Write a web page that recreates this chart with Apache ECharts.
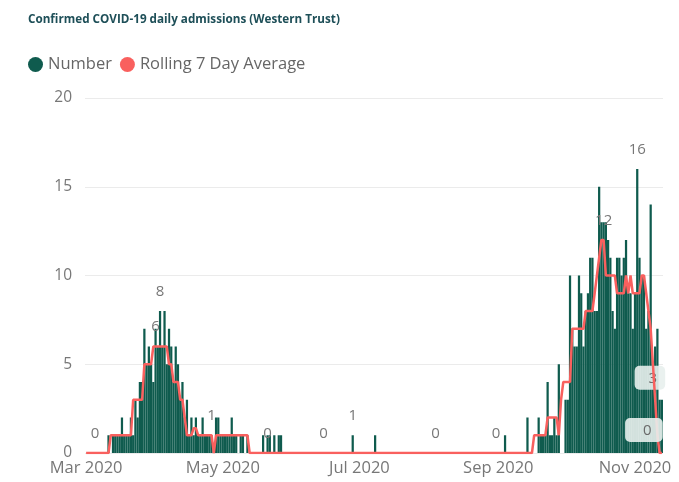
<!DOCTYPE html>
<html>
<head>
<meta charset="utf-8">
<script src="https://cdn.jsdelivr.net/npm/echarts@6/dist/echarts.min.js"></script>
<style>
  html, body { margin: 0; padding: 0; background: #fff; }
  #chart { width: 679px; height: 482px; }
</style>
</head>
<body>
<div id="chart"></div>
<script>
// Daily confirmed admissions, Western Trust, from 1 March 2020
const startDate = '2020-03-01';
const dayCount = 258;

const numberValues = [
  0,0,0,0,0,0,0,0,0,0,            // Mar 1-10
  1,0,1,1,1,1,2,1,1,1,            // Mar 11-20
  2,1,3,2,4,4,7,5,6,5,            // Mar 21-30
  4,7,6,8,6,8,5,7,6,4,            // Mar 31 - Apr 9
  6,5,3,4,2,3,1,2,1,2,            // Apr 10-19
  1,1,2,1,1,1,1,0,2,2,            // Apr 20-29
  1,1,1,1,1,2,1,1,0,1,            // Apr 30 - May 9
  1,0,1,0,0,0,0,0,0,1,            // May 10-19
  0,1,1,0,1,0,1,1,0,0,            // May 20-29
  0,0,0,0,0,0,0,0,0,0,            // May 30 - Jun 8
  0,0,0,0,0,0,0,0,0,0,            // Jun 9-18
  0,0,0,0,0,0,0,0,0,1,            // Jun 19-28
  0,0,0,0,0,0,0,0,0,1,            // Jun 29 - Jul 8
  0,0,0,0,0,0,0,0,0,0,            // Jul 9-18
  0,0,0,0,0,0,0,0,0,0,            // Jul 19-28
  0,0,0,0,0,0,0,0,0,0,            // Jul 29 - Aug 7
  0,0,0,0,0,0,0,0,0,0,            // Aug 8-17
  0,0,0,0,0,0,0,0,0,0,            // Aug 18-27
  0,0,0,0,0,0,0,1,0,0,            // Aug 28 - Sep 6
  0,0,0,0,0,0,0,2,0,0,            // Sep 7-16
  0,0,2,1,1,1,4,1,1,2,            // Sep 17-26
  1,5,0,0,3,3,10,7,6,6,           // Sep 27 - Oct 6
  10,9,6,8,9,11,11,8,8,15,        // Oct 7-16
  13,13,13,12,11,8,7,11,11,10,    // Oct 17-26
  11,12,9,9,7,9,16,11,10,10,      // Oct 27 - Nov 5
  7,8,14,5,6,7,3,3                // Nov 6-13
];

const rollingValues = [
  0,0,0,0,0,0,0,0,0,0,
  0,1,1,1,1,1,1,1,1,1,
  1,3,3,3,3,3,5,5,5,5,
  6,6,6,6,6,6,6,5,5,4,
  4,4,3,3,2,1,1,1,1.4,1.4,
  1,1,1,1,1,1,1,0,1,1,
  1,1,1,1,1,1,1,1,1,1,
  1,1,1,0,0,0,0,0,0,0,
  0,0,0,0,0,0,0,0,0,0,
  0,0,0,0,0,0,0,0,0,0,
  0,0,0,0,0,0,0,0,0,0,
  0,0,0,0,0,0,0,0,0,0,
  0,0,0,0,0,0,0,0,0,0,
  0,0,0,0,0,0,0,0,0,0,
  0,0,0,0,0,0,0,0,0,0,
  0,0,0,0,0,0,0,0,0,0,
  0,0,0,0,0,0,0,0,0,0,
  0,0,0,0,0,0,0,0,0,0,
  0,0,0,0,0,0,0,0,0,0,
  0,0,0,0,0,0,0,0,0,0,
  1,1,1,1,1,1,2,2,2,2,
  2,1,3,4,4,4,4,7,7,7,
  7,7,7,8,8,8,8,9,10,11,
  12,12,10,10,10,10,10,9,9,9,
  9,10,9,10,9,9,9,9,10,10,
  9,8,7,5,3,1,0,0
];

const monthTicks = ['2020-03-01', '2020-05-01', '2020-07-01', '2020-09-01', '2020-11-01'];
const monthTickLabels = ['Mar 2020', 'May 2020', 'Jul 2020', 'Sep 2020', 'Nov 2020'];
const yTicks = [0, 5, 10, 15, 20];

// days (index from startDate) that carry a value label
const numberLabelDays = [33, 56, 119, 246];
const rollingLabelDays = [4, 31, 81, 106, 156, 183, 231];
const lastDay = dayCount - 1;

const BAR = '#0F5B4E';
const LINE = '#F9605E';
const TEXT = '#777777';
const FONT = '"Open Sans", "Noto Sans", sans-serif';

function isoDay(i) {
  const d = new Date(Date.parse(startDate + 'T00:00:00Z') + i * 86400000);
  return d.toISOString().slice(0, 10);
}
const days = [];
for (let i = 0; i < dayCount; i++) days.push(isoDay(i));

const plainLabel = {
  show: true, position: 'top', distance: 12,
  color: TEXT, fontFamily: FONT, fontSize: 15
};
const boxedLabel = {
  show: true, position: 'top',
  color: '#6A6A6A', fontFamily: FONT, fontSize: 15,
  backgroundColor: 'rgba(232,239,237,0.9)',
  borderRadius: 5
};

const numberData = numberValues.map((v, i) => {
  if (i === lastDay) {
    return { value: v, label: Object.assign({}, boxedLabel, { distance: 10, padding: [5, 8, 4, 14], offset: [-12, 0] }) };
  }
  if (numberLabelDays.includes(i)) return { value: v, label: plainLabel };
  return v;
});
const rollingData = rollingValues.map((v, i) => {
  if (i === lastDay) {
    return { value: v, label: Object.assign({}, boxedLabel, { distance: 11, padding: [5, 11, 4, 18], offset: [-18, 0] }) };
  }
  if (rollingLabelDays.includes(i)) return { value: v, label: plainLabel };
  return v;
});

const chart = echarts.init(document.getElementById('chart'), null, { renderer: 'canvas' });
chart.setOption({
  animation: false,
  backgroundColor: '#fff',
  textStyle: { fontFamily: FONT },
  title: {
    text: 'Confirmed COVID-19 daily admissions (Western Trust)',
    left: 23, top: 9,
    textStyle: { fontFamily: FONT, fontSize: 11.7, fontWeight: 'bold', color: '#1E4F58' }
  },
  legend: {
    left: 23, top: 51,
    icon: 'circle', itemWidth: 15, itemHeight: 15, itemGap: 8,
    textStyle: { fontFamily: FONT, fontSize: 16.5, color: '#666' },
    data: ['Number', 'Rolling 7 Day Average']
  },
  grid: { left: 85, right: 16, top: 98, bottom: 29 },
  xAxis: {
    type: 'category',
    data: days,
    boundaryGap: true,
    axisLine: { show: false },
    axisTick: { show: false },
    axisLabel: {
      interval: (idx, val) => monthTicks.includes(val),
      formatter: val => monthTickLabels[monthTicks.indexOf(val)] || '',
      color: TEXT, fontFamily: FONT, fontSize: 16.5, margin: 7
    }
  },
  yAxis: {
    type: 'value',
    min: yTicks[0], max: yTicks[yTicks.length - 1], interval: 5,
    axisLine: { show: false },
    axisTick: { show: false },
    axisLabel: { color: TEXT, fontFamily: FONT, fontSize: 15.5, margin: 13 },
    splitLine: { lineStyle: { color: '#EBEBEB', width: 1 } }
  },
  series: [
    {
      name: 'Number',
      type: 'bar',
      data: numberData,
      itemStyle: { color: BAR },
      barCategoryGap: '0%',
      z: 2
    },
    {
      name: 'Rolling 7 Day Average',
      type: 'line',
      data: rollingData,
      showSymbol: true,
      showAllSymbol: true,
      symbol: 'circle',
      symbolSize: 0,
      itemStyle: { color: LINE },
      lineStyle: { color: LINE, width: 2.5 },
      z: 3
    }
  ]
});
</script>
</body>
</html>
